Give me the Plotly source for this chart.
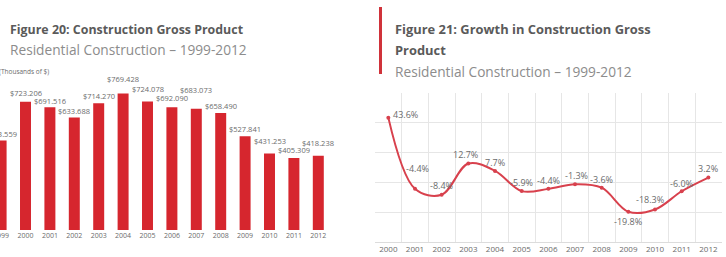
import plotly.graph_objects as go

# ---------------- data ----------------
bar_years = ["1999", "2000", "2001", "2002", "2003", "2004", "2005", "2006",
             "2007", "2008", "2009", "2010", "2011", "2012"]
bar_values = [503.559, 723.206, 691.516, 633.688, 714.270, 769.428, 724.078,
              692.090, 683.073, 658.490, 527.841, 431.253, 405.309, 418.238]
bar_labels = ["$503.559", "$723.206", "$691.516", "$633.688", "$714.270", "$769.428",
              "$724.078", "$692.090", "$683.073", "$658.490", "$527.841", "$431.253",
              "$405.309", "$418.238"]

growth_years = ["2000", "2001", "2002", "2003", "2004", "2005", "2006", "2007",
                "2008", "2009", "2010", "2011", "2012"]
growth_values = [43.6, -4.4, -8.4, 12.7, 7.7, -5.9, -4.4, -1.3, -3.6, -19.8, -18.3, -6.0, 3.2]
growth_labels = ["43.6%", "-4.4%", "-8.4%", "12.7%", "7.7%", "-5.9%", "-4.4%", "-1.3%",
                 "-3.6%", "-19.8%", "-18.3%", "-6.0%", "3.2%"]

# ---------------- styling / layout helpers ----------------
W, H = 726, 257
FONT = "Open Sans"
GREY_DARK = "#5a5a5a"
GREY_TXT = "#6b6b6b"
GREY_LIGHT = "#8c8c8c"
BAR_RED = "#d6262e"
LINE_RED = "#d8414d"

# vertical lift (px) of the bar value labels above each bar top
bar_label_lift = [7, 9, 6, 7, 7.5, 14, 12, 9, 19, 7, 7, 12.5, 8, 13]
# offsets (px) of the growth labels relative to their points
growth_dx = [17, 3, 0, -3, 0, 0, 0, 1, 0, 0, -5, 0, 0]
growth_dy = [3, 20, 9, 9, 8.5, 9, 8, 9, 8, -10, 10, 8, 9.5]


def px_x(p):
    return p / W


def px_y(p):
    return 1 - p / H


fig = go.Figure()

fig.add_trace(go.Bar(
    x=bar_years, y=bar_values, marker=dict(color=BAR_RED, line=dict(width=0)),
    xaxis="x", yaxis="y", hoverinfo="skip", showlegend=False,
))

fig.add_trace(go.Scatter(
    x=growth_years, y=growth_values, mode="lines+markers",
    line=dict(color=LINE_RED, width=2, shape="spline", smoothing=1.0),
    marker=dict(color=LINE_RED, size=4),
    xaxis="x2", yaxis="y2", hoverinfo="skip", showlegend=False,
))

annotations = []
for i, (v, lab, lift) in enumerate(zip(bar_values, bar_labels, bar_label_lift)):
    annotations.append(dict(
        x=i, y=v, xref="x", yref="y", text=lab, showarrow=False,
        xanchor="center", yanchor="middle", yshift=lift,
        font=dict(family=FONT, size=7.5, color=GREY_TXT),
    ))

for i, (v, lab, dx, dy) in enumerate(zip(growth_values, growth_labels, growth_dx, growth_dy)):
    annotations.append(dict(
        x=i, y=v, xref="x2", yref="y2", text=lab, showarrow=False,
        xanchor="center", yanchor="middle", xshift=dx, yshift=dy,
        font=dict(family=FONT, size=9, color=GREY_TXT),
    ))

# titles
annotations += [
    dict(x=px_x(8), y=px_y(29), xref="paper", yref="paper", xanchor="left", yanchor="middle",
         text="<b>Figure 20: Construction Gross Product</b>", showarrow=False,
         font=dict(family=FONT, size=12.4, color=GREY_DARK)),
    dict(x=px_x(8), y=px_y(50), xref="paper", yref="paper", xanchor="left", yanchor="middle",
         text="Residential Construction – 1999-2012", showarrow=False,
         font=dict(family=FONT, size=13.7, color=GREY_LIGHT)),
    dict(x=px_x(-3), y=px_y(71), xref="paper", yref="paper", xanchor="left", yanchor="middle",
         text="(Thousands of $)", showarrow=False,
         font=dict(family=FONT, size=6.5, color=GREY_TXT)),
    dict(x=px_x(393), y=px_y(29), xref="paper", yref="paper", xanchor="left", yanchor="middle",
         text="<b>Figure 21: Growth in Construction Gross</b>", showarrow=False,
         font=dict(family=FONT, size=12.9, color=GREY_DARK)),
    dict(x=px_x(393), y=px_y(50), xref="paper", yref="paper", xanchor="left", yanchor="middle",
         text="<b>Product</b>", showarrow=False,
         font=dict(family=FONT, size=12.9, color=GREY_DARK)),
    dict(x=px_x(393), y=px_y(71), xref="paper", yref="paper", xanchor="left", yanchor="middle",
         text="Residential Construction – 1999-2012", showarrow=False,
         font=dict(family=FONT, size=13.7, color=GREY_LIGHT)),
]

shapes = [
    dict(type="rect", xref="paper", yref="paper",
         x0=px_x(379), x1=px_x(382), y0=px_y(74), y1=px_y(7),
         fillcolor="#d0323a", line=dict(width=0), layer="above"),
]

fig.update_layout(
    width=W, height=H,
    margin=dict(l=0, r=0, t=0, b=0, autoexpand=False),
    paper_bgcolor="white", plot_bgcolor="white",
    font=dict(family=FONT, color=GREY_TXT),
    bargap=0.55,
    annotations=annotations,
    shapes=shapes,
    xaxis=dict(
        domain=[0, px_x(340.5)], type="category", range=[-0.045, 13.91],
        showgrid=False, showline=False, zeroline=False, ticks="",
        tickfont=dict(family=FONT, size=7, color=GREY_TXT), tickangle=0,
        anchor="y", automargin=False,
    ),
    yaxis=dict(
        domain=[px_y(230), px_y(60)], range=[0, 170 / 0.1775],
        showgrid=False, showline=False, zeroline=False, showticklabels=False,
        anchor="x", automargin=False,
    ),
    xaxis2=dict(
        domain=[px_x(375), px_x(721.7)], type="category", range=[-0.5, 12.5],
        tickson="boundaries", showgrid=True, gridcolor="#e6e6e6", gridwidth=1,
        showline=True, linecolor="#dcdcdc", linewidth=1, ticks="",
        tickfont=dict(family=FONT, size=8, color=GREY_TXT), tickangle=0,
        anchor="y2", zeroline=False, automargin=False,
    ),
    yaxis2=dict(
        domain=[px_y(241.7), px_y(93.3)], range=[-40, 60], dtick=20,
        showgrid=True, gridcolor="#e6e6e6", gridwidth=1,
        showline=False, zeroline=False, showticklabels=False, ticks="",
        anchor="x2", automargin=False,
    ),
)

fig.write_html("out.html")
